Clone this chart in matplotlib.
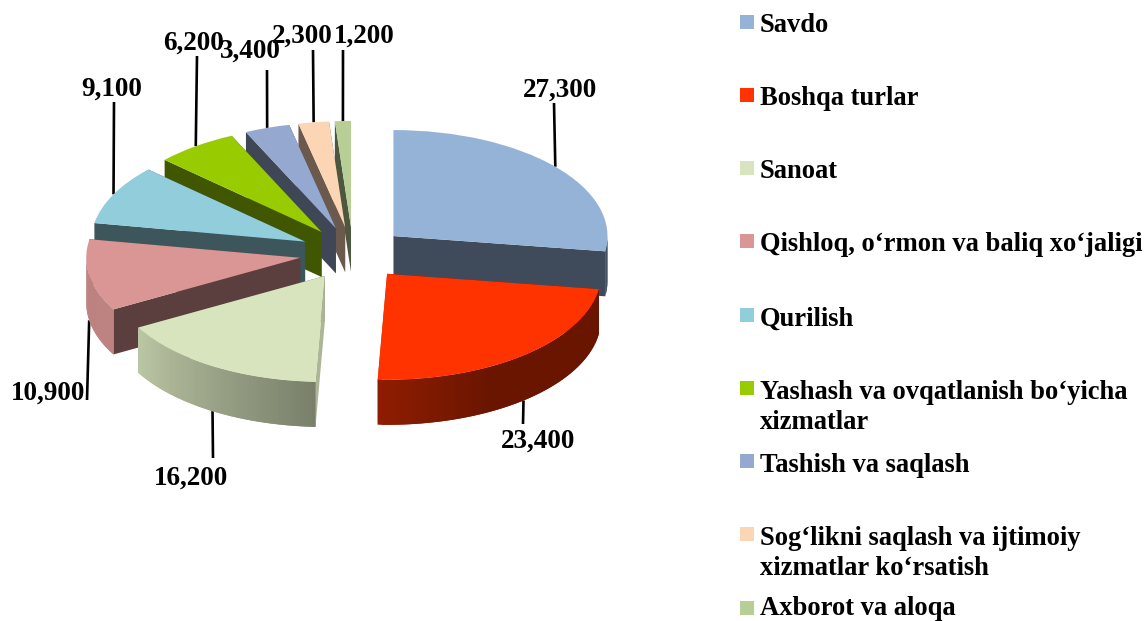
import numpy as np
import matplotlib
matplotlib.use('Agg')
import matplotlib.pyplot as plt
from matplotlib.patches import Rectangle

# Data
categories = [
    'Savdo', 'Boshqa turlar', 'Sanoat', 'Qishloq, o\u2018rmon va baliq xo\u2018jaligi',
    'Qurilish', 'Yashash va ovqatlanish bo\u2018yicha\nxizmatlar',
    'Tashish va saqlash', 'Sog\u2018likni saqlash va ijtimoiy\nxizmatlar ko\u2018rsatish',
    'Axborot va aloqa',
]
values = [27300, 23400, 16200, 10900, 9100, 6200, 3400, 2300, 1200]
colors = ['#95B3D7', '#FF3300', '#D7E4BD', '#D99694', '#92CDDC',
          '#99CC00', '#95A9D0', '#FCD5B5', '#B7CE95']

# Layout in reference pixels
W, H = 1148, 621
origin_px = (353.0, 253.4)
rx_px, ry_px = 214.0, 106.0
depth_px = 45.0
explode_frac = 0.25
draw_order = [8, 7, 6, 5, 4, 3, 0, 2, 1]  # back to front
label_px = [(560, 90), (538, 441), (191, 478), (48, 393), (112, 89),
            (194, 43), (250, 51), (302, 36), (364, 36)]
leader_end_px = [(554, 103), (523, 424), (213, 458), (87, 400), (114, 102),
                 (197, 56), (267, 70), (313, 50), (343, 50)]
legend_box_y = [15, 88, 161, 234, 308, 381, 454, 527, 601]
legend_text_y = [32, 105, 178, 251, 326, 399, 472, 545, 615]

plt.rcParams['font.family'] = ['Liberation Serif', 'DejaVu Serif']
fig = plt.figure(figsize=(W/100, H/100), dpi=100, facecolor='white')
ax = fig.add_axes([0, 0, 1, 1])


def px2data(px, py):
    return (px - origin_px[0])/rx_px, (origin_px[1] - py)/ry_px


def shaded(color, factor):
    rgb = np.array(matplotlib.colors.to_rgb(color))
    return tuple(rgb*factor)


wedges, _ = ax.pie(values, explode=[explode_frac]*len(values), colors=colors,
                   startangle=90, counterclock=False, radius=1)
ax.set_aspect('auto')
x0, y0 = px2data(0, H)
x1, y1 = px2data(W, 0)
ax.set_xlim(x0, x1)
ax.set_ylim(y0, y1)
ax.axis('off')
depth = depth_px/ry_px

for rank, i in enumerate(draw_order):
    w = wedges[i]
    cx, cy = w.center
    z = 2 + rank
    w.set_zorder(z + 0.5)
    # Cut faces
    for theta in (w.theta1, w.theta2):
        ex = cx + np.cos(np.radians(theta))
        ey = cy + np.sin(np.radians(theta))
        upright = abs(np.cos(np.radians(theta))) < 0.1 and ey < cy
        face = shaded(colors[i], 0.8 if upright else 0.42)
        ax.fill([cx, ex, ex, cx], [cy, ey, ey - depth, cy - depth],
                color=face, lw=0, zorder=z)
    # Outer wall, front half only; strips overlap so no seams show
    edges = np.linspace(w.theta1, w.theta2, max(int(w.theta2 - w.theta1), 2) + 1)
    for j in range(len(edges) - 1):
        a = edges[j]
        b = edges[min(j + 2, len(edges) - 1)]
        mid = (edges[j] + edges[j + 1])/2 % 360
        if mid < 180:
            continue
        factor = np.interp(mid, [180, 209, 267.5, 300, 360],
                           [0.86, 0.875, 0.56, 0.41, 0.41])
        ra, rb = np.radians(a), np.radians(b)
        xs = [cx + np.cos(ra), cx + np.cos(rb), cx + np.cos(rb), cx + np.cos(ra)]
        ys = [cy + np.sin(ra), cy + np.sin(rb), cy + np.sin(rb) - depth,
              cy + np.sin(ra) - depth]
        ax.fill(xs, ys, color=shaded(colors[i], factor), lw=0, zorder=z + 0.1)

# Leader lines run from the middle of each outer arc
for i, w in enumerate(wedges):
    mid = np.radians((w.theta1 + w.theta2)/2)
    sx = w.center[0] + np.cos(mid)
    sy = w.center[1] + np.sin(mid)
    if np.sin(mid) < 0:
        sy -= depth
    ex, ey = px2data(*leader_end_px[i])
    ax.plot([sx, ex], [sy, ey], color='black', lw=1.9, zorder=1,
            solid_capstyle='butt')

# Labels and legend in pixel space
over = fig.add_axes([0, 0, 1, 1])
over.set_xlim(0, W)
over.set_ylim(H, 0)
over.axis('off')
over.patch.set_alpha(0)

for v, (lx, ly) in zip(values, label_px):
    over.text(lx, ly, f'{v:,}', ha='center', va='center', fontsize=19.5,
              fontweight='bold', color='black')

for name, c, by, ty in zip(categories, colors, legend_box_y, legend_text_y):
    over.add_patch(Rectangle((740, by), 14, 14, facecolor=c, edgecolor='none'))
    for k, line in enumerate(name.split('\n')):
        over.text(760, ty + 30*k, line, ha='left', va='baseline', fontsize=19.1,
                  fontweight='bold', color='black')

fig.savefig('out.png', dpi=100, facecolor='white')
